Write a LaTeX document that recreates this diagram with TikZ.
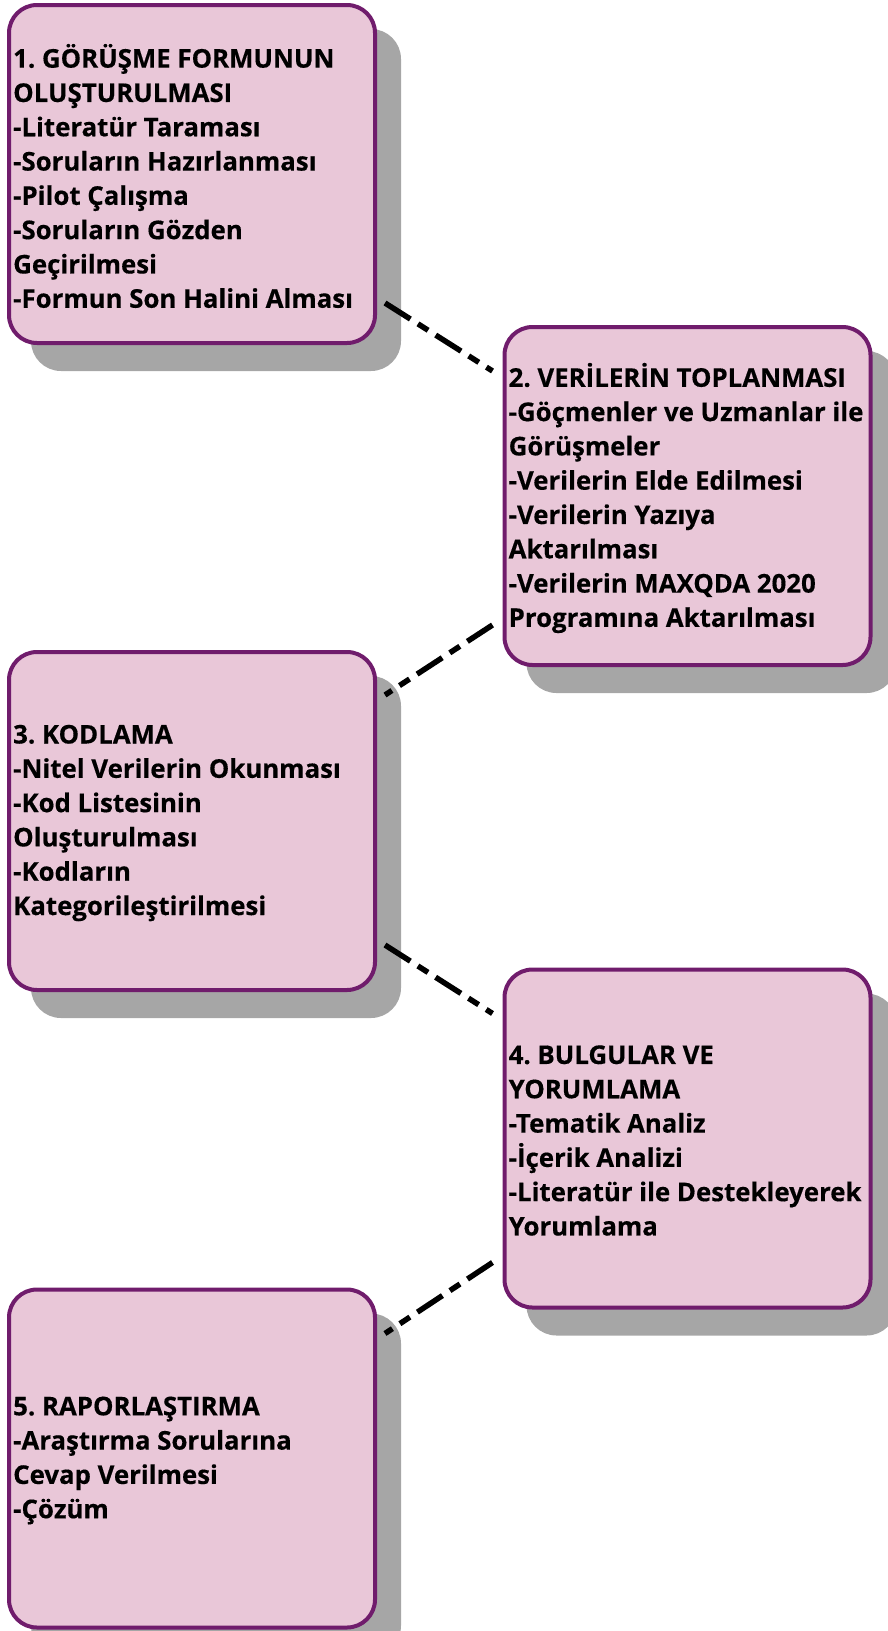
\documentclass[tikz,border=0pt]{standalone}
\usepackage{fontspec}
\setmainfont{Open Sans}[BoldFeatures={FakeBold=0.4}]
\usetikzlibrary{shadows}
\definecolor{boxfill}{RGB}{233,199,216}
\definecolor{boxline}{RGB}{112,28,108}
\definecolor{shgray}{RGB}{166,166,166}
\tikzset{
  stagebox/.style={draw=boxline, line width=4pt, fill=boxfill, rounded corners=28pt,
    minimum width=366pt, minimum height=338pt, inner sep=0pt,
    general shadow={fill=shgray, draw=shgray, line width=4pt, shadow xshift=24pt, shadow yshift=-26pt}},
  stagetext/.style={anchor=west, align=left, inner sep=0pt, font=\frenchspacing\bfseries\fontsize{25.8pt}{34.3pt}\selectfont},
  link/.style={line width=5.5pt, dash pattern=on 30pt off 9pt on 12pt off 9pt}
}
\begin{document}
\begin{tikzpicture}
\useasboundingbox (0pt,0pt) rectangle (888pt,-1631pt);
\node[stagebox] (b1) at (192pt,-174pt) {};
\node[stagebox] (b2) at (687.5pt,-496pt) {};
\node[stagebox] (b3) at (192pt,-821pt) {};
\node[stagebox] (b4) at (687.5pt,-1138.5pt) {};
\node[stagebox] (b5) at (192pt,-1458.5pt) {};

\node[stagetext] (t1) at ([xshift=6pt,yshift=-2pt]b1.west) {1. GÖRÜŞME FORMUNUN\\OLUŞTURULMASI\\-Literatür Taraması\\-Soruların Hazırlanması\\-Pilot Çalışma\\-Soruların Gözden\\Geçirilmesi\\-Formun Son Halini Alması};
\node[stagetext] (t2) at ([xshift=6pt,yshift=-2pt]b2.west) {2. VERİLERİN TOPLANMASI\\-Göçmenler ve Uzmanlar ile\\Görüşmeler\\-Verilerin Elde Edilmesi\\-Verilerin Yazıya\\Aktarılması\\-Verilerin MAXQDA 2020\\Programına Aktarılması};
\node[stagetext] (t3) at ([xshift=6pt,yshift=-2pt]b3.west) {3. KODLAMA\\-Nitel Verilerin Okunması\\-Kod Listesinin\\Oluşturulması\\-Kodların\\Kategorileştirilmesi};
\node[stagetext] (t4) at ([xshift=6pt,yshift=-2pt]b4.west) {4. BULGULAR VE\\YORUMLAMA\\-Tematik Analiz\\-İçerik Analizi\\-Literatür ile Destekleyerek\\Yorumlama};
\node[stagetext] (t5) at ([xshift=6pt,yshift=-2pt]b5.west) {5. RAPORLAŞTIRMA\\-Araştırma Sorularına\\Cevap Verilmesi\\-Çözüm};

\draw[link] ([shift={(8pt,42pt)}]b1.south east) -- ([shift={(-10pt,-46pt)}]b2.north west);
\draw[link] ([shift={(-10pt,42pt)}]b2.south west) -- ([shift={(8pt,-45pt)}]b3.north east);
\draw[link] ([shift={(8pt,47pt)}]b3.south east) -- ([shift={(-10pt,-46pt)}]b4.north west);
\draw[link] ([shift={(-10pt,47pt)}]b4.south west) -- ([shift={(8pt,-46pt)}]b5.north east);
\end{tikzpicture}
\end{document}
